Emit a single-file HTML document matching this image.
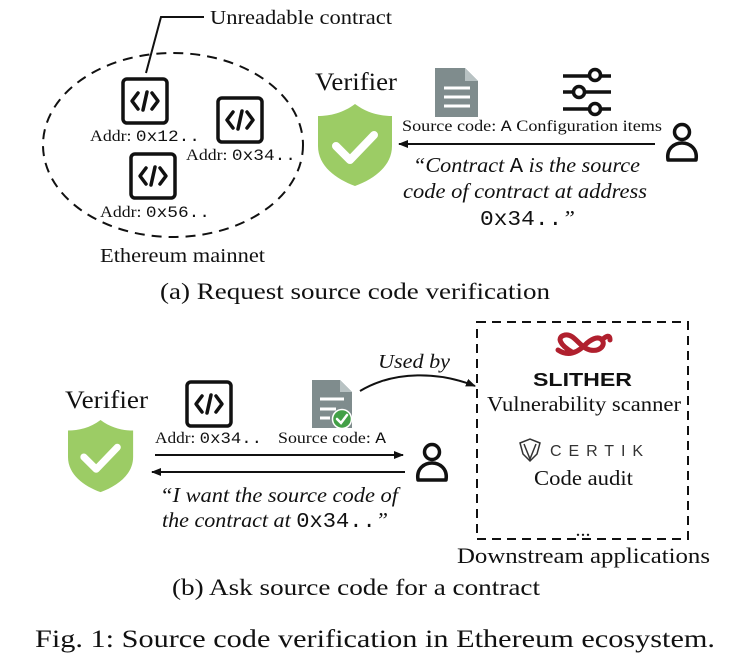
<!DOCTYPE html>
<html><head><meta charset="utf-8"><style>
html,body{margin:0;padding:0;background:#fff;}
svg{display:block;}
.t{font-family:"Liberation Serif",serif;fill:#111;}
.m{font-family:"Liberation Mono",monospace;}
.i{font-style:italic;}
</style></head><body>
<svg width="751" height="668" viewBox="0 0 751 668" xmlns="http://www.w3.org/2000/svg">
<defs>
<marker id="ah" markerWidth="10" markerHeight="8" refX="9" refY="4" orient="auto" markerUnits="userSpaceOnUse">
<path d="M0,0 L10,4 L0,8 z" fill="#111"/></marker>
<g id="code">
<rect x="2" y="2" width="44" height="44" rx="4" fill="none" stroke="#111" stroke-width="3.5"/>
<path d="M17,16 L11,24 L17,32 M31,16 L37,24 L31,32" fill="none" stroke="#111" stroke-width="3.5" stroke-linecap="round" stroke-linejoin="round"/>
<path d="M26,15 L22,33" stroke="#111" stroke-width="3.5" stroke-linecap="round"/>
</g>
<g id="shield">
<path d="M37,0 C25,9 12,12 0,12 L0,42 C0,62 18,75 37,82 C56,75 74,62 74,42 L74,12 C62,12 49,9 37,0 Z" fill="#9ccc65"/>
<path d="M18,42 L32,56 L56,31" fill="none" stroke="#fff" stroke-width="8" stroke-linecap="round" stroke-linejoin="round"/>
</g>
<g id="person">
<circle cx="17" cy="10" r="7.5" fill="none" stroke="#111" stroke-width="3.5"/>
<path d="M3,38 C1,26 10,21 17,21 C24,21 33,26 31,38 Z" fill="none" stroke="#111" stroke-width="3.5" stroke-linejoin="round"/>
</g>
</defs>

<!-- (a) -->
<text class="t" x="210" y="24" font-size="20" textLength="182" lengthAdjust="spacingAndGlyphs">Unreadable contract</text>
<path d="M204,17 L161,17 L146,73" fill="none" stroke="#111" stroke-width="2"/>
<ellipse cx="173" cy="145" rx="130" ry="92" fill="none" stroke="#111" stroke-width="2" stroke-dasharray="10,7"/>
<use href="#code" x="121" y="77"/>
<use href="#code" x="216" y="96"/>
<use href="#code" x="129" y="152"/>
<text class="t" x="90" y="141" font-size="16" textLength="110" lengthAdjust="spacingAndGlyphs">Addr: <tspan class="m">0x12..</tspan></text>
<text class="t" x="186" y="160" font-size="16" textLength="110" lengthAdjust="spacingAndGlyphs">Addr: <tspan class="m">0x34..</tspan></text>
<text class="t" x="100" y="217" font-size="16" textLength="110" lengthAdjust="spacingAndGlyphs">Addr: <tspan class="m">0x56..</tspan></text>
<text class="t" x="100" y="262" font-size="20" textLength="165" lengthAdjust="spacingAndGlyphs">Ethereum mainnet</text>
<text class="t" x="160" y="299" font-size="23" textLength="390" lengthAdjust="spacingAndGlyphs">(a) Request source code verification</text>

<text class="t" x="315" y="90" font-size="25" textLength="82" lengthAdjust="spacingAndGlyphs">Verifier</text>
<use href="#shield" x="318" y="104"/>
<path d="M435,68 L465,68 L478,81 L478,117 L435,117 Z" fill="#7f8c8d"/>
<path d="M465,68 L465,81 L478,81 Z" fill="#b8c2c3"/>
<path d="M444,88 L470,88 M444,97 L470,97 M444,106 L470,106" stroke="#fff" stroke-width="3"/>
<g stroke="#111" stroke-width="3.5" fill="#fff">
<line x1="563" y1="76" x2="611" y2="76"/><line x1="563" y1="92" x2="611" y2="92"/><line x1="563" y1="109" x2="611" y2="109"/>
<circle cx="595" cy="75" r="5.5"/><circle cx="579" cy="92" r="5.5"/><circle cx="595" cy="109" r="5.5"/>
</g>
<text class="t" x="402" y="131" font-size="16" textLength="260" lengthAdjust="spacingAndGlyphs">Source code: <tspan class="m">A</tspan> Configuration items</text>
<line x1="655" y1="144" x2="399" y2="144" stroke="#111" stroke-width="2" marker-end="url(#ah)"/>
<use href="#person" x="665" y="122"/>
<text class="t i" x="413" y="172" font-size="21" textLength="227" lengthAdjust="spacingAndGlyphs">“Contract <tspan class="m" font-style="normal">A</tspan> is the source</text>
<text class="t i" x="403" y="198" font-size="21" textLength="244" lengthAdjust="spacingAndGlyphs">code of contract at address</text>
<text class="t i" x="480" y="225" font-size="21" textLength="95" lengthAdjust="spacingAndGlyphs"><tspan class="m" font-style="normal">0x34..</tspan>”</text>

<!-- (b) -->
<rect x="477" y="322" width="211" height="217" fill="none" stroke="#111" stroke-width="2" stroke-dasharray="9,6"/>
<g fill="none" stroke="#b0202e" stroke-width="5" stroke-linecap="round">
<path d="M572,352 C560,345 556,337 565,335 C574,333 580,348 590,350 C600,352 606,345 602,340 C598,335 590,340 585,345 C580,350 570,358 558,350"/>
<path d="M602,340 C606,336 610,334 610,340"/>
</g>
<text x="533" y="386" font-family="Liberation Sans,sans-serif" font-weight="bold" font-size="18" textLength="99" lengthAdjust="spacingAndGlyphs" fill="#111">SLITHER</text>
<text class="t" x="487" y="411" font-size="21" textLength="194" lengthAdjust="spacingAndGlyphs">Vulnerability scanner</text>
<path d="M520,443 L530,439 L540,443 L537,454 L530,461 L523,454 Z M524,444 L530,459 L536,444" fill="none" stroke="#333" stroke-width="1.5"/>
<text x="550" y="456" font-family="Liberation Sans,sans-serif" font-size="16" textLength="93" lengthAdjust="spacing" fill="#333">CERTIK</text>
<text class="t" x="534" y="485" font-size="21" textLength="99" lengthAdjust="spacingAndGlyphs">Code audit</text>
<text class="t" x="583" y="536" font-size="20" text-anchor="middle">...</text>
<text class="t" x="457" y="563" font-size="22" textLength="253" lengthAdjust="spacingAndGlyphs">Downstream applications</text>

<text class="t i" x="378" y="368" font-size="20" textLength="72" lengthAdjust="spacingAndGlyphs">Used by</text>
<path d="M360,391 C395,370 440,372 475,386" fill="none" stroke="#111" stroke-width="2" marker-end="url(#ah)"/>

<text class="t" x="65" y="408" font-size="25" textLength="83" lengthAdjust="spacingAndGlyphs">Verifier</text>
<use href="#shield" transform="translate(68,420) scale(0.88)"/>
<use href="#code" x="185" y="380"/>
<path d="M312,380 L340,380 L352,392 L352,428 L312,428 Z" fill="#7f8c8d"/>
<path d="M340,380 L340,392 L352,392 Z" fill="#b8c2c3"/>
<path d="M320,399 L344,399 M320,409 L336,409 M320,418 L330,418" stroke="#fff" stroke-width="3"/>
<circle cx="342" cy="419" r="9.5" fill="#43a047" stroke="#fff" stroke-width="1.5"/>
<path d="M337,419 L341,423 L347,415" fill="none" stroke="#fff" stroke-width="2.5" stroke-linecap="round"/>
<text class="t" x="155" y="443" font-size="16" textLength="107" lengthAdjust="spacingAndGlyphs">Addr: <tspan class="m">0x34..</tspan></text>
<text class="t" x="278" y="443" font-size="16" textLength="108" lengthAdjust="spacingAndGlyphs">Source code: <tspan class="m">A</tspan></text>
<line x1="155" y1="455" x2="403" y2="455" stroke="#111" stroke-width="2" marker-end="url(#ah)"/>
<line x1="405" y1="472" x2="152" y2="472" stroke="#111" stroke-width="2" marker-end="url(#ah)"/>
<use href="#person" x="415" y="442"/>
<text class="t i" x="160" y="502" font-size="21" textLength="238" lengthAdjust="spacingAndGlyphs">“I want the source code of</text>
<text class="t i" x="162" y="527" font-size="21" textLength="226" lengthAdjust="spacingAndGlyphs">the contract at <tspan class="m" font-style="normal">0x34..</tspan>”</text>
<text class="t" x="172" y="595" font-size="23" textLength="368" lengthAdjust="spacingAndGlyphs">(b) Ask source code for a contract</text>

<text class="t" x="35" y="647" font-size="25" textLength="680" lengthAdjust="spacingAndGlyphs">Fig. 1: Source code verification in Ethereum ecosystem.</text>
</svg>
</body></html>
